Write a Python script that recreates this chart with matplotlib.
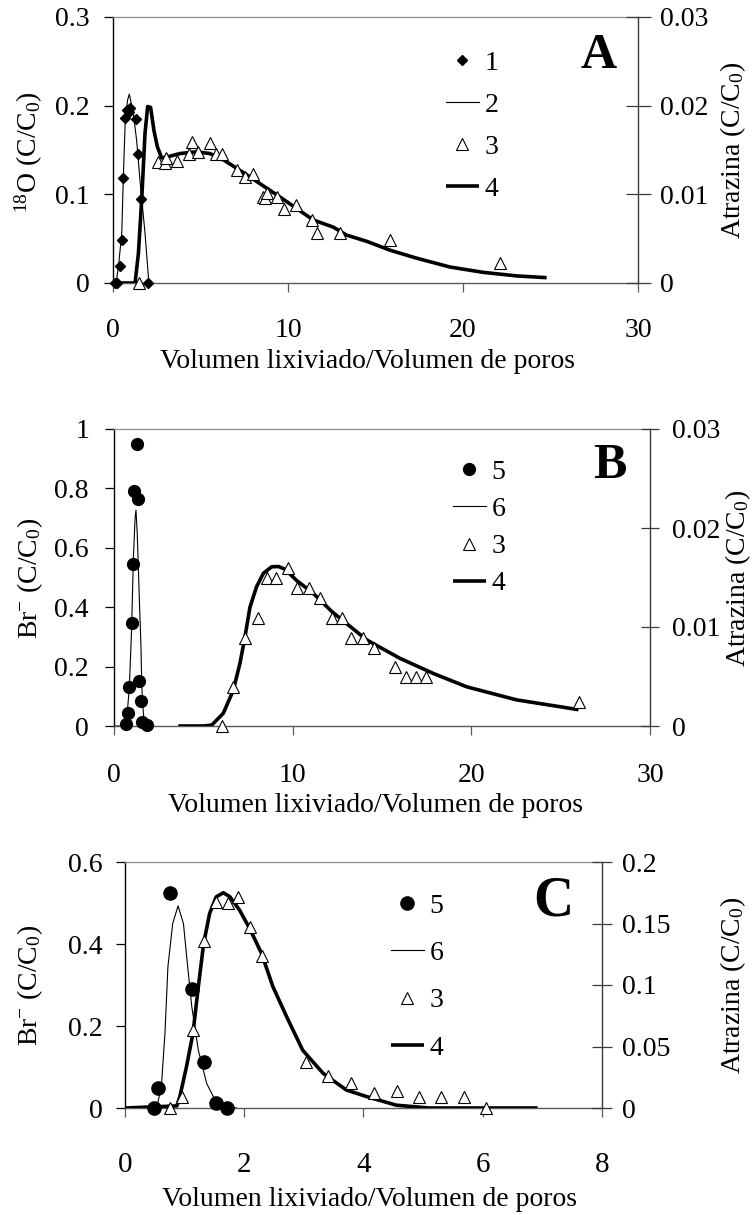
import numpy as np
import matplotlib
matplotlib.use('Agg')
import matplotlib.pyplot as plt
from matplotlib.ticker import FuncFormatter

plt.rcParams['font.family'] = ['Liberation Serif', 'DejaVu Serif']
plt.rcParams['mathtext.fontset'] = 'custom'
plt.rcParams['mathtext.rm'] = 'Liberation Serif'
plt.rcParams['mathtext.it'] = 'Liberation Serif:italic'

W, H = 754, 1215

# ---------------- Panel A ----------------
a_o18_x = [0.1, 0.25, 0.4, 0.5, 0.55, 0.69, 0.78, 0.90, 0.97, 1.30, 1.45, 1.58, 1.98]
a_o18_y = [0, 0, 0.019, 0.048, 0.118, 0.186, 0.195, 0.193, 0.197, 0.185, 0.145, 0.095, 0]

a_o18_fit_x = [0, 0.17, 0.31, 0.50, 0.59, 0.70, 0.83, 0.93, 1.01, 1.16, 1.35, 1.54, 1.83, 2.05]
a_o18_fit_y = [0, 0, 0.018, 0.056, 0.119, 0.183, 0.206, 0.213, 0.206, 0.191, 0.161, 0.116, 0.056, 0]

a_atz_x = [1.50, 2.59, 2.97, 3.03, 3.64, 4.36, 4.50, 4.88, 5.54, 5.89, 6.21, 7.07, 7.54,
           7.98, 8.55, 8.70, 8.78, 9.35, 9.77, 10.46, 11.35, 11.67, 12.97, 15.83, 22.11]
a_atz_y = [0, 0.0136, 0.0135, 0.0141, 0.0138, 0.0145, 0.0159, 0.0148, 0.0158, 0.0145, 0.0146,
           0.0127, 0.0119, 0.0123, 0.0097, 0.0096, 0.0102, 0.0097, 0.0084, 0.0088, 0.0071,
           0.0056, 0.0056, 0.0049, 0.0022]

a_atz_fit_x = [0, 1.26, 1.45, 1.64, 1.83, 1.98, 2.15, 2.34, 2.53, 2.78, 3.26, 3.83, 4.78, 5.54,
               6.30, 7.26, 8.40, 9.54, 11.45, 12.59, 13.35, 14.50, 15.83, 17.35, 19.26, 21.16,
               23.07, 24.78]
a_atz_fit_y = [0, 0, 0.0033, 0.0094, 0.0169, 0.0199, 0.0198, 0.0172, 0.0154, 0.0141, 0.0143,
               0.0146, 0.0148, 0.0146, 0.0139, 0.0127, 0.0112, 0.0097, 0.0071, 0.0063, 0.0054,
               0.0047, 0.0037, 0.0028, 0.0018, 0.0012, 0.0008, 0.0006]

# ---------------- Panel B ----------------
b_br_x = [0.67, 0.80, 0.86, 0.99, 1.04, 1.12, 1.27, 1.36, 1.38, 1.49, 1.55, 1.83]
b_br_y = [0.007, 0.045, 0.132, 0.348, 0.544, 0.791, 0.948, 0.763, 0.152, 0.084, 0.015, 0.003]

b_br_fit_x = [0, 0.49, 0.71, 0.86, 0.99, 1.08, 1.18, 1.23, 1.30, 1.42, 1.51, 1.55, 1.60, 1.68, 1.79]
b_br_fit_y = [0, 0, 0.02, 0.132, 0.334, 0.559, 0.70, 0.727, 0.649, 0.424, 0.267, 0.144, 0.076, 0.02, 0]

b_atz_x = [6.03, 6.68, 7.33, 8.04, 8.54, 9.07, 9.76, 10.26, 10.91, 11.53, 12.22, 12.74, 13.26,
           13.95, 14.55, 15.72, 16.34, 16.90, 17.46, 26.0]
b_atz_y = [0, 0.00396, 0.00885, 0.01089, 0.01491, 0.01491, 0.01593, 0.01392, 0.01392, 0.01296,
           0.01089, 0.01089, 0.00891, 0.00891, 0.00792, 0.0060, 0.00498, 0.00498, 0.00498, 0.0024]

b_atz_fit_x = [3.6, 5.0, 5.47, 6.12, 6.68, 7.05, 7.33, 7.61, 7.98, 8.36, 8.82, 9.20, 9.57, 10.22,
               11.15, 12.20, 14.14, 16.0, 17.87, 19.74, 22.53, 26.0]
b_atz_fit_y = [0, 0, 0.00009, 0.00129, 0.00363, 0.00633, 0.0090, 0.0120, 0.01407, 0.01542,
               0.01608, 0.01611, 0.01584, 0.0147, 0.01341, 0.01155, 0.0087, 0.00684, 0.00531,
               0.00396, 0.00264, 0.00165]

# ---------------- Panel C ----------------
c_br_x = [0.49, 0.55, 0.75, 1.13, 1.32, 1.52, 1.71]
c_br_y = [0, 0.05, 0.524, 0.29, 0.111, 0.013, 0]

c_br_fit_x = [0, 0.53, 0.61, 0.67, 0.72, 0.80, 0.89, 0.98, 1.04, 1.12, 1.23, 1.37, 1.48, 1.65, 1.87]
c_br_fit_y = [0, 0, 0.052, 0.182, 0.345, 0.45, 0.493, 0.45, 0.361, 0.247, 0.141, 0.06, 0.028, 0.005, 0]

c_atz_x = [0.76, 0.95, 1.14, 1.32, 1.52, 1.73, 1.90, 2.09, 2.29, 3.04, 3.40, 3.79, 4.17, 4.56,
           4.93, 5.30, 5.68, 6.05]
c_atz_y = [0, 0.0093, 0.0633, 0.136, 0.1677, 0.167, 0.1717, 0.147, 0.1237, 0.0377, 0.026,
           0.0207, 0.0123, 0.014, 0.0093, 0.0093, 0.0093, 0]

c_atz_fit_x = [0, 0.87, 0.92, 1.03, 1.14, 1.23, 1.32, 1.42, 1.53, 1.65, 1.76, 1.92, 2.09, 2.29,
               2.48, 2.71, 2.98, 3.32, 3.71, 4.05, 4.55, 5.10, 6.92]
c_atz_fit_y = [0, 0.0017, 0.0093, 0.0333, 0.0607, 0.0987, 0.134, 0.1583, 0.1717, 0.175, 0.1717,
               0.161, 0.146, 0.1257, 0.0987, 0.0743, 0.047, 0.0283, 0.0147, 0.0093, 0.0023, 0, 0]

XLABEL = 'Volumen lixiviado/Volumen de poros'
ATZ_LABEL = 'Atrazina (C/C$_0$)'
FS = 20


def box(left, top, right, bottom):
    # pixel box -> figure fraction
    return [left / W, 1 - bottom / H, (right - left) / W, (bottom - top) / H]


def fx(x):
    return x / W


def fy(y):
    return 1 - y / H


fmt = FuncFormatter(lambda v, pos: f'{v:g}')


def style(ax, ax2, fs, xfs, xpad, ypad, y2pad, y2len):
    ax.spines['right'].set_visible(False)
    ax.spines['top'].set_color('#8c8c8c')
    ax.spines['top'].set_linewidth(0.9)
    ax.spines['left'].set_color('black')
    ax.spines['left'].set_linewidth(1.0)
    ax.spines['bottom'].set_color('#5a5a5a')
    ax.spines['bottom'].set_linewidth(1.0)
    for s in ['top', 'left', 'bottom']:
        ax2.spines[s].set_visible(False)
    ax2.spines['right'].set_color('#3a3a3a')
    ax2.spines['right'].set_linewidth(1.0)
    ax.tick_params(axis='x', direction='out', length=6.5, width=0.9, pad=xpad,
                   labelsize=xfs, color='#5a5a5a')
    ax.tick_params(axis='y', direction='out', length=6.5, width=0.9, pad=ypad, labelsize=fs)
    ax2.tick_params(axis='y', direction='inout', length=y2len, width=0.9, pad=y2pad,
                    labelsize=fs, color='#3a3a3a')
    ax.xaxis.set_major_formatter(fmt)
    ax.yaxis.set_major_formatter(fmt)
    ax2.yaxis.set_major_formatter(fmt)


fig = plt.figure(figsize=(W / 100, H / 100), dpi=100)

thin = dict(color='black', lw=0.8)
thick = dict(color='black', lw=2.6, solid_capstyle='butt')
tri = dict(ls='none', marker='^', ms=9, mfc='white', mec='black', mew=0.8, clip_on=False, zorder=5)

# ---------- A ----------
ax = fig.add_axes(box(113, 17, 638, 283))
ax2 = ax.twinx()
h1, = ax.plot(a_o18_x, a_o18_y, ls='none', marker='D', ms=5.5, color='black', clip_on=False, zorder=4)
h2, = ax.plot(a_o18_fit_x, a_o18_fit_y, **thin)
h4, = ax2.plot(a_atz_fit_x, a_atz_fit_y, **thick)
h3, = ax2.plot(a_atz_x, a_atz_y, **tri)
ax.set_xlim(0, 30)
ax.set_ylim(0, 0.3)
ax2.set_ylim(0, 0.03)
ax.set_xticks([0, 10, 20, 30])
ax.set_yticks([0, 0.1, 0.2, 0.3])
ax2.set_yticks([0, 0.01, 0.02, 0.03])
style(ax, ax2, FS, FS, 18.5, 10, 7, 18)
ax2.legend([h1, h2, h3, h4], ['1', '2', '3', '4'], loc='center', frameon=False,
           bbox_to_anchor=(fx(472), fy(126)), bbox_transform=fig.transFigure,
           fontsize=FS, handlelength=1.2, handletextpad=0.2, labelspacing=0.6,
           numpoints=1)
fig.text(fx(599), fy(56), 'A', fontsize=36, fontweight='bold', ha='center', va='center')
fig.text(fx(29), fy(152), r'$^{18}$O (C/C$_0$)', fontsize=FS, rotation=90, ha='center', va='center')
fig.text(fx(733), fy(150), ATZ_LABEL, fontsize=FS, rotation=90, ha='center', va='center')
fig.text(fx(368), fy(362), XLABEL, fontsize=FS, ha='center', va='center')

# ---------- B ----------
ax = fig.add_axes(box(114, 429, 650, 726))
ax2 = ax.twinx()
h5, = ax.plot(b_br_x, b_br_y, ls='none', marker='o', ms=8.5, color='black', clip_on=False, zorder=4)
h6, = ax.plot(b_br_fit_x, b_br_fit_y, **thin)
h4, = ax2.plot(b_atz_fit_x, b_atz_fit_y, **thick)
h3, = ax2.plot(b_atz_x, b_atz_y, **tri)
ax.set_xlim(0, 30)
ax.set_ylim(0, 1)
ax2.set_ylim(0, 0.03)
ax.set_xticks([0, 10, 20, 30])
ax.set_yticks([0, 0.2, 0.4, 0.6, 0.8, 1])
ax2.set_yticks([0, 0.01, 0.02, 0.03])
style(ax, ax2, FS, FS, 20, 11.5, 9, 13)
ax2.legend([h5, h6, h3, h4], ['5', '6', '3', '4'], loc='center', frameon=False,
           bbox_to_anchor=(fx(479), fy(528)), bbox_transform=fig.transFigure,
           fontsize=FS, handlelength=1.2, handletextpad=0.2, labelspacing=0.42,
           numpoints=1)
fig.text(fx(610), fy(466), 'B', fontsize=36, fontweight='bold', ha='center', va='center')
fig.text(fx(30), fy(578), r'Br$^{-}$ (C/C$_0$)', fontsize=FS, rotation=90, ha='center', va='center')
fig.text(fx(738), fy(578), ATZ_LABEL, fontsize=FS, rotation=90, ha='center', va='center')
fig.text(fx(376), fy(805), XLABEL, fontsize=FS, ha='center', va='center')

# ---------- C ----------
ax = fig.add_axes(box(125, 862, 602, 1108))
ax2 = ax.twinx()
h5, = ax.plot(c_br_x, c_br_y, ls='none', marker='o', ms=9.5, color='black', clip_on=False, zorder=6)
h6, = ax.plot(c_br_fit_x, c_br_fit_y, **thin)
h4, = ax2.plot(c_atz_fit_x, c_atz_fit_y, **thick)
h3, = ax2.plot(c_atz_x, c_atz_y, **tri)
ax.set_zorder(ax2.get_zorder())
ax.set_xlim(0, 8)
ax.set_ylim(0, 0.6)
ax2.set_ylim(0, 0.2)
ax.set_xticks([0, 2, 4, 6, 8])
ax.set_yticks([0, 0.2, 0.4, 0.6])
ax2.set_yticks([0, 0.05, 0.1, 0.15, 0.2])
style(ax, ax2, FS, 21, 25, 9.5, 7.7, 14)
ax2.legend([h5, h6, h3, h4], ['5', '6', '3', '4'], loc='center', frameon=False,
           bbox_to_anchor=(fx(417), fy(977)), bbox_transform=fig.transFigure,
           fontsize=FS, handlelength=1.2, handletextpad=0.2, labelspacing=0.79,
           numpoints=1)
fig.text(fx(553), fy(901), 'C', fontsize=40, fontweight='bold', ha='center', va='center')
fig.text(fx(30), fy(985), r'Br$^{-}$ (C/C$_0$)', fontsize=FS, rotation=90, ha='center', va='center')
fig.text(fx(733), fy(985), ATZ_LABEL, fontsize=FS, rotation=90, ha='center', va='center')
fig.text(fx(370), fy(1200), XLABEL, fontsize=FS, ha='center', va='center')

fig.savefig('out.png', dpi=100)
